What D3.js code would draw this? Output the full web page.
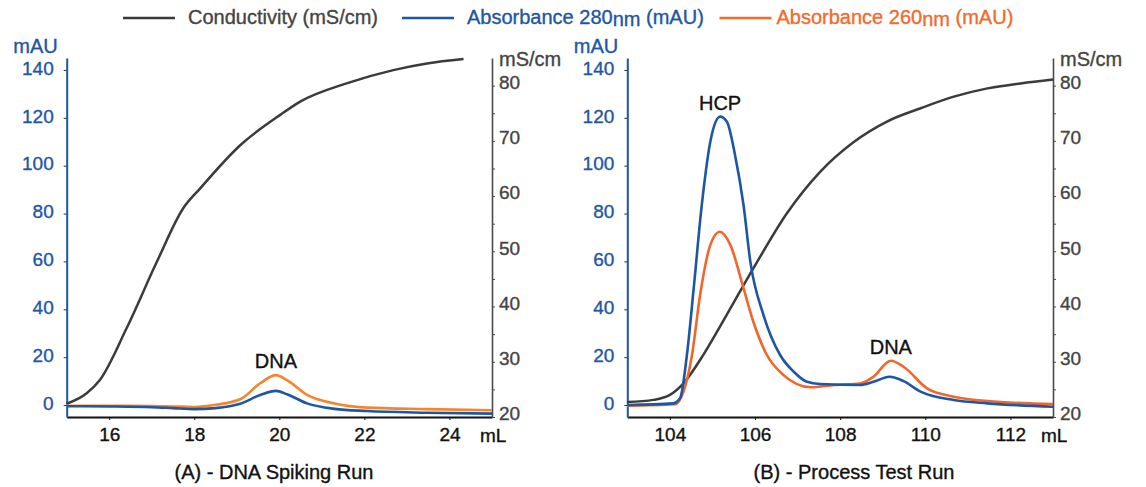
<!DOCTYPE html>
<html>
<head>
<meta charset="utf-8">
<script src="https://cdn.jsdelivr.net/npm/d3@7/dist/d3.min.js"></script>
<style>
  body { margin: 0; background: #fff; }
  text { font-family: "Liberation Sans", Arial, Helvetica, sans-serif; stroke-width: 0.35px; }
</style>
</head>
<body>
<div id="chart"></div>
<script>

// ---- DATA ----

// (A) DNA spiking run
var condVolA = [15, 15.47, 15.78, 16.41, 17.12, 17.74, 18.14, 19.08, 20.02, 20.49, 21.58, 22.68, 23.47, 24.33];
var condA    = [22.4, 24.3, 26.7, 36.1, 48.1, 57.8, 61.4, 69.2, 74.7, 77.1, 80.4, 82.8, 84.0, 84.8];

var absVolA  = [15, 16, 17, 17.5, 18, 18.5, 19.08, 19.55, 19.92, 20.18, 20.65, 21.3, 22.06, 23.47, 25];
var a280A    = [-0.5, -0.6, -0.9, -1.3, -1.7, -1.3, 0.5, 4.2, 5.9, 4.5, 0.7, -1.6, -2.5, -3.2, -3.6];
var a260A    = [-0.3, -0.3, -0.4, -0.6, -0.8, 0.1, 2.4, 9.1, 12.5, 10.4, 4.2, 0.6, -1.1, -1.7, -2.2];

// (B) process test run
var condVolB = [103, 103.61, 104.0, 104.32, 104.79, 105.18, 105.96, 106.75, 107.53, 108.32, 109.1, 109.89, 110.67, 111.46, 112.24, 113];
var condB    = [22.7, 23.1, 24.0, 26.1, 31.3, 36.4, 46.9, 56.9, 64.4, 69.8, 73.5, 75.9, 78.0, 79.5, 80.4, 81.1];

var a280VolB = [103, 104.08, 104.24, 104.4, 104.56, 104.75, 104.95, 105.18, 105.34, 105.53, 105.73, 105.89, 106.2, 106.59, 106.91, 107.22, 107.53, 108.47, 108.78, 109.16, 109.49, 109.89, 110.67, 111.46, 113];
var a280B    = [0, 0.7, 2.8, 20.9, 48.8, 83.6, 110, 120.5, 118.4, 104.5, 83.6, 59.9, 37.6, 20.9, 13.9, 9.7, 8.8, 8.4, 9.7, 11.8, 10.0, 5.6, 2.1, 0.7, -0.7];

var a260VolB = [103, 104.12, 104.32, 104.52, 104.71, 104.95, 105.17, 105.42, 105.73, 105.96, 106.28, 106.67, 107.31, 107.86, 108.47, 108.78, 109.19, 109.49, 110.04, 110.67, 111.46, 113];
var a260B    = [-0.3, 0.3, 5.6, 20.9, 46, 66.9, 72.4, 66.9, 48.8, 34.8, 20.9, 12.5, 7.4, 8.4, 9.0, 11.8, 18.5, 16.0, 7.0, 3.5, 1.7, 0.4];

// axes
var mAUTicks   = [0, 20, 40, 60, 80, 100, 120, 140];
var condTicks  = [20, 25, 30, 35, 40, 45, 50, 55, 60, 65, 70, 75, 80];
var volTicksA  = [16, 18, 20, 22, 24];
var volTicksB  = [104, 106, 108, 110, 112];

// peak labels: [text, mL, mAU]
var peaksA = [["DNA", 19.92, 12.5]];
var peaksB = [["HCP", 105.18, 120.5], ["DNA", 109.19, 18.5]];

var legendLabels = ["Conductivity (mS/cm)", "Absorbance 280", "Absorbance 260"];
var captions = ["(A) - DNA Spiking Run", "(B) - Process Test Run"];

// ---- STYLE ----
var colCond = "#3b3b3b";
var colBlue = "#1d56a5";
var colOrangeA = "#f5842b";
var colOrangeB = "#f2662a";
var colLegendOrange = "#f26a2c";

var width = 1146, height = 487;
var yTop = 58, yBottom = 417;

var svg = d3.select("#chart")
    .append("svg")
    .attr("width", width)
    .attr("height", height);

// shared y scales
var yAbs = d3.scaleLinear().domain([-5, 145]).range([yBottom, yTop]);
var yCond = d3.scaleLinear().domain([20, 85]).range([yBottom, yTop]);

function zip(xs, ys){
    return xs.map(function(d, i){ return [d, ys[i]]; });
}

// text with a thin outline of its own colour, to get the medium weight of the original
function ink(sel, color){
    return sel.attr("fill", color).attr("stroke", color);
}

function drawPanel(p){
    var x = d3.scaleLinear().domain(p.domain).range([p.x0, p.x1]);
    var g = svg.append("g").attr("class", "panel");

    // bottom axis
    var xAxis = g.append("g")
        .attr("transform", "translate(0," + yBottom + ")")
        .call(d3.axisBottom(x).tickValues(p.volTicks).tickSize(3).tickPadding(8).tickSizeOuter(0));
    xAxis.select(".domain").attr("stroke", "#111").attr("stroke-width", 2);
    xAxis.selectAll(".tick line").attr("stroke", "#111").attr("stroke-width", 1);
    ink(xAxis.selectAll(".tick text"), "#111")
        .attr("font-size", "19px");

    ink(g.append("text"), "#111")
        .attr("x", p.x1 - 12)
        .attr("y", yBottom + 25)
        .attr("font-size", "19px")
        .text("mL");

    // right axis (conductivity)
    var rAxis = g.append("g")
        .attr("transform", "translate(" + p.x1 + ",0)")
        .call(d3.axisRight(yCond).tickValues(condTicks).tickSize(3).tickPadding(4).tickSizeOuter(0)
            .tickFormat(function(d){ return d % 10 === 0 ? d : ""; }));
    rAxis.select(".domain").attr("stroke", "#4a4a4a").attr("stroke-width", 1.6);
    rAxis.selectAll(".tick line").attr("stroke", "#4a4a4a");
    ink(rAxis.selectAll(".tick text"), "#444")
        .attr("font-size", "19px")
        .attr("dy", "0.15em");

    ink(g.append("text"), "#444")
        .attr("x", p.x1 + 7)
        .attr("y", 66)
        .attr("font-size", "20px")
        .text("mS/cm");

    // left axis (mAU)
    var lAxis = g.append("g")
        .attr("transform", "translate(" + p.x0 + ",0)")
        .call(d3.axisLeft(yAbs).tickValues(mAUTicks).tickSize(3).tickPadding(10).tickSizeOuter(0));
    lAxis.select(".domain").attr("stroke", colBlue).attr("stroke-width", 2);
    lAxis.selectAll(".tick line").attr("stroke", "#333");
    ink(lAxis.selectAll(".tick text"), colBlue)
        .attr("font-size", "19px")
        .attr("dy", "0.22em");

    ink(g.append("text"), colBlue)
        .attr("x", p.x0 - 9)
        .attr("y", 53)
        .attr("text-anchor", "end")
        .attr("font-size", "20px")
        .text("mAU");

    // curves
    var condLine = d3.line()
        .x(function(d){ return x(d[0]); })
        .y(function(d){ return yCond(d[1]); })
        .curve(d3.curveMonotoneX);
    var absLine = d3.line()
        .x(function(d){ return x(d[0]); })
        .y(function(d){ return yAbs(d[1]); })
        .curve(d3.curveMonotoneX);

    g.append("path")
        .datum(zip(p.condVol, p.cond))
        .attr("d", condLine)
        .attr("fill", "none")
        .attr("stroke", colCond)
        .attr("stroke-width", 2.5);

    g.append("path")
        .datum(zip(p.a260Vol, p.a260))
        .attr("d", absLine)
        .attr("fill", "none")
        .attr("stroke", p.orange)
        .attr("stroke-width", 2.6);

    g.append("path")
        .datum(zip(p.a280Vol, p.a280))
        .attr("d", absLine)
        .attr("fill", "none")
        .attr("stroke", colBlue)
        .attr("stroke-width", 2.6);

    // peak names
    var peaks = g.selectAll("text.peak")
        .data(p.peaks)
        .enter()
        .append("text")
            .attr("class", "peak")
            .attr("x", function(d){ return x(d[1]); })
            .attr("y", function(d){ return yAbs(d[2]) - 7; })
            .attr("text-anchor", "middle")
            .attr("font-size", "20px")
            .text(function(d){ return d[0]; });
    ink(peaks, "#111");

    // caption
    ink(g.append("text"), "#111")
        .attr("x", p.captionX)
        .attr("y", 479)
        .attr("text-anchor", "middle")
        .attr("font-size", "20px")
        .text(p.caption);
}

drawPanel({
    x0: 66.7, x1: 492, domain: [15, 25], volTicks: volTicksA,
    condVol: condVolA, cond: condA,
    a280Vol: absVolA, a280: a280A,
    a260Vol: absVolA, a260: a260A,
    orange: colOrangeA, peaks: peaksA,
    caption: captions[0], captionX: 274
});

drawPanel({
    x0: 627.3, x1: 1053, domain: [103, 113], volTicks: volTicksB,
    condVol: condVolB, cond: condB,
    a280Vol: a280VolB, a280: a280B,
    a260Vol: a260VolB, a260: a260B,
    orange: colOrangeB, peaks: peaksB,
    caption: captions[1], captionX: 854
});

// ---- LEGEND ----
var legendItems = [
    {color: colCond, textColor: "#444", x: 123, sub: false},
    {color: colBlue, textColor: colBlue, x: 402, sub: true},
    {color: colLegendOrange, textColor: colLegendOrange, x: 719.5, sub: true}
];

var legend = svg.append("g").attr("class", "legend");

legendItems.forEach(function(item, i){
    legend.append("line")
        .attr("x1", item.x)
        .attr("x2", item.x + 52)
        .attr("y1", 18)
        .attr("y2", 18)
        .attr("stroke", item.color)
        .attr("stroke-width", 2.6);

    var t = ink(legend.append("text"), item.textColor)
        .attr("x", item.x + 65 - (i == 2 ? 8 : 0))
        .attr("y", 23.5)
        .attr("font-size", "20px")
        .text(legendLabels[i]);

    if (item.sub){
        t.append("tspan").attr("dy", 2.5).text("nm");
        t.append("tspan").attr("dy", -2.5).text(" (mAU)");
    }
});

</script>
</body>
</html>
